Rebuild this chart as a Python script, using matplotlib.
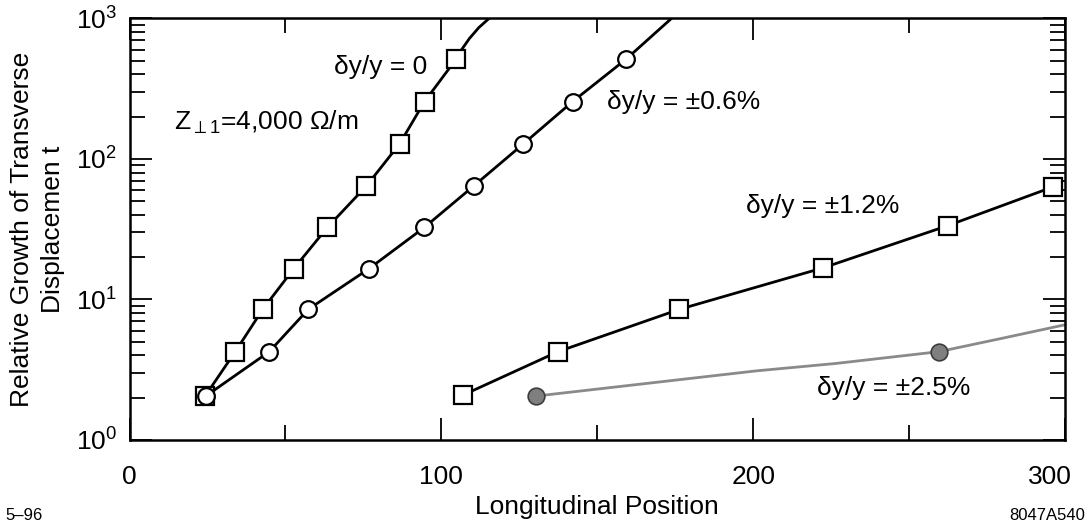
import matplotlib
matplotlib.use("Agg")
import matplotlib.pyplot as plt
from matplotlib.ticker import FixedLocator, LogLocator, NullFormatter
from matplotlib.transforms import ScaledTranslation

plt.rcParams['font.family'] = ['Liberation Sans', 'DejaVu Sans']
plt.rcParams['mathtext.fontset'] = 'custom'
plt.rcParams['mathtext.rm'] = 'Liberation Sans'
plt.rcParams['mathtext.it'] = 'Liberation Sans:italic'
plt.rcParams['mathtext.sf'] = 'Liberation Sans'

# dy/y = 0 (squares), plus the unmarked tail running off the top
pos_0 = [24.2, 33.9, 42.7, 52.6, 63.4, 75.9, 86.6, 94.6, 104.7]
grow_0 = [2.05, 4.25, 8.5, 16.5, 32.5, 64, 128, 256, 512]
tail_pos_0 = [106.5, 109.0, 112.0, 115.3]
tail_grow_0 = [600, 720, 860, 1000]

# dy/y = +-0.6% (open circles)
pos_06 = [24.4, 44.8, 57.3, 76.7, 94.5, 110.3, 126.3, 142.1, 159.2]
grow_06 = [2.05, 4.25, 8.5, 16.5, 32.5, 64, 128, 256, 512]
tail_pos_06 = [173.8]
tail_grow_06 = [1000]

# dy/y = +-1.2% (squares)
pos_12 = [106.8, 137.4, 176.3, 222.5, 262.4, 296.2]
grow_12 = [2.08, 4.25, 8.5, 16.8, 33.5, 63.3]

# dy/y = +-2.5% (grey curve, two filled dots)
pos_25 = [130.2, 200.9, 226.4, 259.6, 280.0, 300.0]
grow_25 = [2.05, 3.1, 3.5, 4.25, 5.3, 6.6]
dots_25 = [0, 3]

fig = plt.figure(figsize=(10.89, 5.25), dpi=100)
ax = fig.add_axes([0.119, 0.162, 0.859, 0.803])
ax.set_yscale('log')
ax.set_xlim(0, 300)
ax.set_ylim(1, 1000)

lw = 2.0
ax.plot(pos_0 + tail_pos_0, grow_0 + tail_grow_0, color='black', lw=lw, zorder=2)
ax.plot(pos_0, grow_0, ls='none', marker='s', ms=12.5, mfc='white',
        mec='black', mew=1.6, zorder=3)

ax.plot(pos_06 + tail_pos_06, grow_06 + tail_grow_06, color='black', lw=lw, zorder=4)
ax.plot(pos_06, grow_06, ls='none', marker='o', ms=12, mfc='white',
        mec='black', mew=1.6, zorder=5)

ax.plot(pos_12, grow_12, color='black', lw=lw, zorder=2)
ax.plot(pos_12, grow_12, ls='none', marker='s', ms=12.5, mfc='white',
        mec='black', mew=1.6, zorder=3)

ax.plot(pos_25, grow_25, color='#8a8a8a', lw=lw, zorder=2)
ax.plot([pos_25[i] for i in dots_25], [grow_25[i] for i in dots_25], ls='none',
        marker='o', ms=12, mfc='#7f7f7f', mec='#3c3c3c', mew=1.2, zorder=3)

# axes, ticks
ax.xaxis.set_major_locator(FixedLocator([0, 100, 200, 300]))
ax.xaxis.set_minor_locator(FixedLocator([50, 150, 250]))
ax.yaxis.set_major_locator(LogLocator(base=10, numticks=10))
ax.yaxis.set_minor_locator(LogLocator(base=10, subs=range(2, 10), numticks=10))
ax.yaxis.set_minor_formatter(NullFormatter())
ax.tick_params(which='both', direction='in', top=True, right=True,
               width=1.3, labelsize=19, colors='black')
ax.tick_params(which='major', length=16)
ax.tick_params(which='minor', length=11)
ax.tick_params(axis='x', pad=18)
ax.tick_params(axis='y', pad=9)
for sp in ax.spines.values():
    sp.set_linewidth(1.8)

# pull the last x label in so it stays inside the figure
fig.canvas.draw()
last = ax.get_xticklabels()[-1]
last.set_transform(last.get_transform() + ScaledTranslation(-0.15, 0, fig.dpi_scale_trans))

ax.set_xlabel('Longitudinal Position', fontsize=19, labelpad=4)
ax.set_ylabel('Relative Growth of Transverse\nDisplacemen t', fontsize=19,
              labelpad=8, linespacing=1.35)

ax.text(65.7, 450, 'δy/y = 0', fontsize=19, va='center')
ax.text(14.3, 160, r'Z$_{\perp1}$=4,000 Ω/m', fontsize=19, va='baseline')
ax.text(153, 254, 'δy/y = ±0.6%', fontsize=19, va='center')
ax.text(197.7, 46.2, 'δy/y = ±1.2%', fontsize=19, va='center')
ax.text(220.6, 2.34, 'δy/y = ±2.5%', fontsize=19, va='center')

fig.text(5 / 1089, 1 - 515 / 525, '5–96', fontsize=12, va='center')
fig.text(1085 / 1089, 1 - 515 / 525, '8047A540', fontsize=12, va='center', ha='right')

fig.savefig('out.png', dpi=100)
